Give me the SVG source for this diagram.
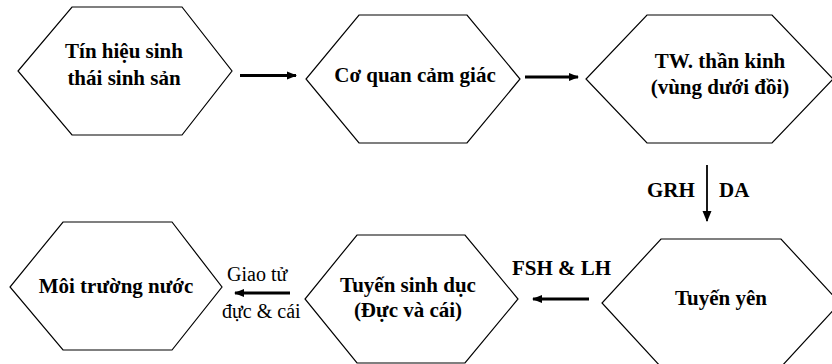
<svg xmlns="http://www.w3.org/2000/svg" width="832" height="364" viewBox="0 0 832 364">
<style>
.hex{fill:#fff;stroke:#000;stroke-width:1.2}
text{font-family:'Liberation Serif','Tinos','Times New Roman','DejaVu Serif',serif;fill:#000}
.t{font-weight:bold;font-size:21px;text-anchor:middle}
.r{font-weight:normal;font-size:20px}
.b{font-weight:bold;font-size:21px}
.c{stroke:#000;stroke-width:3;fill:none}
.cv{stroke:#000;stroke-width:1.8;fill:none}
</style>
<defs>
<marker id="ah" markerUnits="userSpaceOnUse" markerWidth="10" markerHeight="10" refX="9" refY="5" orient="auto">
<path d="M0,1 L10,5 L0,9 Z" fill="#000"/>
</marker>
<marker id="av" markerUnits="userSpaceOnUse" markerWidth="12" markerHeight="10" refX="10" refY="4.5" orient="auto">
<path d="M0,0 L11,4.5 L0,9 Z" fill="#000"/>
</marker>
</defs>
<rect width="832" height="364" fill="#fff"/>
<g id="n1">
<polygon class="hex" points="72,7 182,7 232,71 182,135 72,135 18,71"/>
<text class="t" x="124" y="58" font-family="Liberation Serif, serif">Tín hiệu sinh</text>
<text class="t" x="124" y="85" font-family="Liberation Serif, serif">thái sinh sản</text>
</g>
<g id="n2">
<polygon class="hex" points="359,15 467,15 520,79 467,143 359,143 306,79"/>
<text class="t" x="415" y="82" font-family="Liberation Serif, serif">Cơ quan cảm giác</text>
</g>
<g id="n3">
<polygon class="hex" points="647,15 772,15 833,79 772,143 647,143 586,79"/>
<text class="t" x="720" y="68" font-family="Liberation Serif, serif">TW. thần kinh</text>
<text class="t" x="720" y="94" font-family="Liberation Serif, serif">(vùng dưới đồi)</text>
</g>
<g id="n4">
<polygon class="hex" points="661,239 781,239 840,303 781,367 661,367 602,303"/>
<text class="t" x="721" y="305" font-family="Liberation Serif, serif">Tuyến yên</text>
</g>
<g id="n5">
<polygon class="hex" points="357,235 465,235 518,299 465,363 357,363 305,299"/>
<text class="t" x="408" y="292" font-family="Liberation Serif, serif">Tuyến sinh dục</text>
<text class="t" x="408" y="317" font-family="Liberation Serif, serif">(Đực và cái)</text>
</g>
<g id="n6">
<polygon class="hex" points="63,222 172,222 222,287 172,350 63,350 10,287"/>
<text class="t" x="116" y="293" font-family="Liberation Serif, serif">Môi trường nước</text>
</g>
<g id="connectors">
<line class="c" x1="240" y1="75.5" x2="296" y2="75.5" marker-end="url(#ah)"/>
<line class="c" x1="525" y1="77" x2="578" y2="77" marker-end="url(#ah)"/>
<line class="cv" x1="707" y1="165" x2="707" y2="221" marker-end="url(#av)"/>
<line class="c" x1="589" y1="299" x2="533" y2="299" marker-end="url(#ah)"/>
<line class="c" x1="290" y1="293" x2="235" y2="293" marker-end="url(#ah)"/>
<text class="b" x="647" y="197" font-family="Liberation Serif, serif">GRH</text>
<text class="b" x="719" y="197" font-family="Liberation Serif, serif">DA</text>
<text class="b" x="512" y="275" font-family="Liberation Serif, serif">FSH &amp; LH</text>
<text class="r" x="227" y="281" font-family="Liberation Serif, serif">Giao tử</text>
<text class="r" x="222" y="318" font-family="Liberation Serif, serif">đực &amp; cái</text>
</g>
</svg>
